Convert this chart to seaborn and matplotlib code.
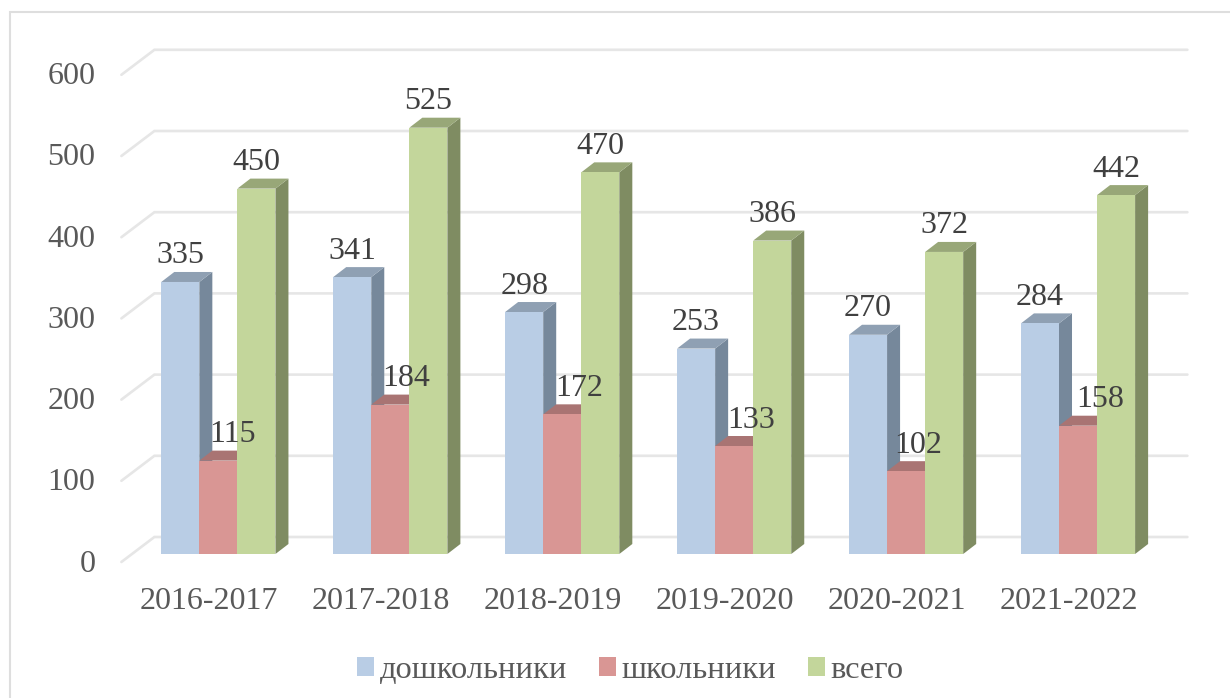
import numpy as np
import pandas as pd
import matplotlib
matplotlib.use("Agg")
import matplotlib.pyplot as plt
from matplotlib.patches import Polygon
from matplotlib.transforms import Affine2D
import seaborn as sns

years = ["2016-2017", "2017-2018", "2018-2019", "2019-2020", "2020-2021", "2021-2022"]
preschool = [335, 341, 298, 253, 270, 284]
school = [115, 184, 172, 133, 102, 158]
total = [450, 525, 470, 386, 372, 442]
series_names = ["дошкольники", "школьники", "всего"]
y_ticks = [0, 100, 200, 300, 400, 500, 600]

colors = ["#B9CDE5", "#D99694", "#C3D69B"]
top_colors = ["#8FA0B3", "#A97473", "#98A778"]
side_colors = ["#76889B", "#8C6160", "#7F8C62"]

W, H = 1230, 698
sns.set_theme(style="white")
plt.rcParams["font.family"] = ["Liberation Serif", "DejaVu Serif"]

df = pd.DataFrame({
    "year": np.repeat(years, 3),
    "series": series_names * len(years),
    "value": np.column_stack([preschool, school, total]).ravel(),
})

fig = plt.figure(figsize=(W / 100, H / 100), dpi=100, facecolor="white")
# axes box in pixels, y measured from the top of the picture
left, right, top, bottom = 132.4, 1164, 66.8, 554
ax = fig.add_axes([left / W, 1 - bottom / H, (right - left) / W, (bottom - top) / H])

sns.barplot(data=df, x="year", y="value", hue="series", hue_order=series_names,
            palette=colors, width=0.664, gap=0, saturation=1, ax=ax, legend=True,
            zorder=3, linewidth=0, order=years)
ax.set_xlim(-0.5, 5.5)
ax.set_ylim(0, 600)
ax.set_xlabel("")
ax.set_ylabel("")
sns.despine(ax=ax, left=True, bottom=True)
ax.patch.set_alpha(0)

# data units per pixel
ux = 6 / (right - left)
uy = 600 / (bottom - top)
dx, dy = 13 * ux, 10 * uy

# back wall gridlines with the little diagonal at the left
x_front = -0.5 - 11 * ux
x_back = x_front + 33 * ux
x_end = x_back + 1033 * ux
for v in y_ticks:
    ax.plot([x_front, x_back, x_end], [v - 8 * uy, v + 17 * uy, v + 17 * uy],
            color="#E6E6E6", lw=1.9, zorder=0, clip_on=False, solid_joinstyle="miter")

# side and top faces of the bars, then the value labels
label_shift = [14, 16, 17, 17, 12, 22]
bars = [p for p in ax.patches if p.get_height() > 0][:18]
for s, values in enumerate([preschool, school, total]):
    for i, val in enumerate(values):
        bar = bars[s * 6 + i]
        bar.set_antialiased(False)
        x0, x1 = bar.get_x(), bar.get_x() + bar.get_width()
        ax.add_patch(Polygon([(x1, 0), (x1 + dx, dy), (x1 + dx, val + dy), (x1, val)],
                             closed=True, fc=side_colors[s], ec="none", zorder=1 + s * 0.1, clip_on=False))
        ax.add_patch(Polygon([(x0, val), (x0 + dx, val + dy), (x1 + dx, val + dy), (x1, val)],
                             closed=True, fc=top_colors[s], ec="none", zorder=1.05 + s * 0.1, clip_on=False))
        shift = label_shift[i] * ux if s == 1 else 0
        ax.text((x0 + x1) / 2 + shift, val + 26 * uy, str(val), ha="center", va="center",
                fontsize=23, color="#404040", zorder=6, clip_on=False)

ax.set_yticks(y_ticks)
ax.tick_params(axis="both", length=0, labelsize=23, labelcolor="#595959")
ax.tick_params(axis="y", pad=26.6)
for lab in ax.get_yticklabels():
    lab.set_verticalalignment("center")
    lab.set_transform(lab.get_transform() + Affine2D().translate(0, -10))
ax.tick_params(axis="x", pad=24)
for lab in ax.get_xticklabels():
    lab.set_transform(lab.get_transform() + Affine2D().translate(-9.5, 0))

# outer chart frame, open on the right and at the bottom like the source crop
frame_x = 9.5 / W
frame_y = 1 - 11.5 / H
fig.add_artist(plt.Line2D([frame_x, frame_x, 1], [0, frame_y, frame_y], transform=fig.transFigure,
                          color="#DEDEDE", lw=1.5, solid_joinstyle="miter"))

handles, labels = ax.get_legend_handles_labels()
ax.get_legend().remove()
fs = 23.4
fig.legend(handles, labels, loc="center left", bbox_to_anchor=(357 / W, 1 - 671 / H), ncol=3,
           frameon=False, fontsize=fs, labelcolor="#595959", handlelength=12.2 / fs,
           handleheight=12.2 / fs, handletextpad=0.18, columnspacing=0.97, borderpad=0, borderaxespad=0)

fig.savefig("out.png", dpi=100, facecolor="white")
